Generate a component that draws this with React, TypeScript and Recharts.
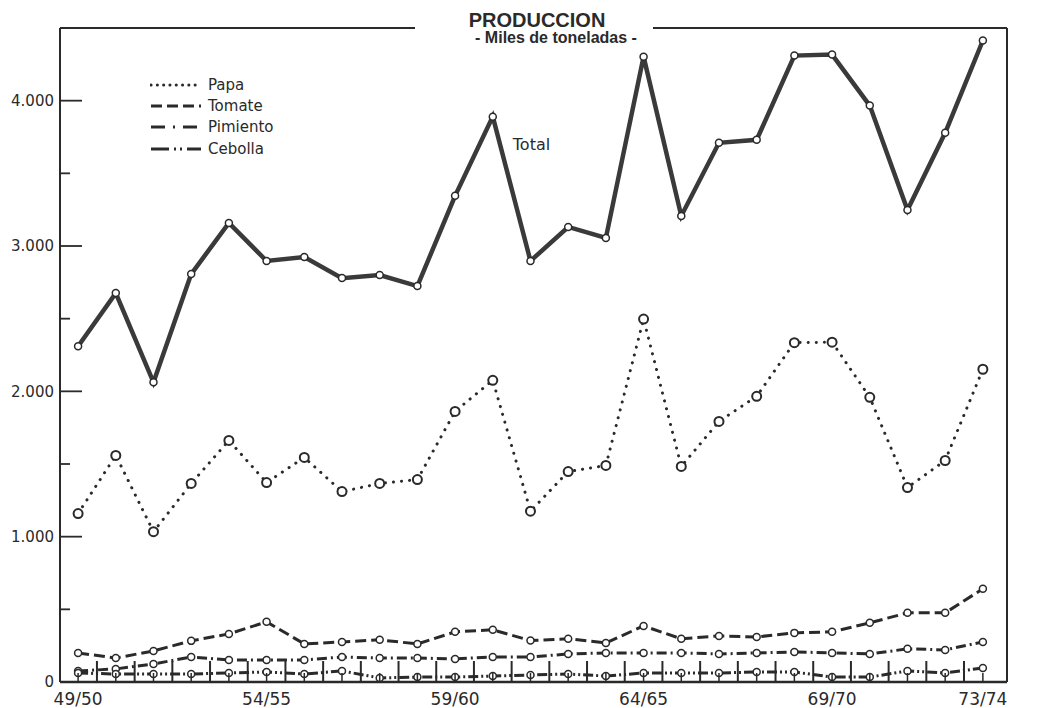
import { LabelList, Legend, Line, LineChart, ReferenceLine, XAxis, YAxis } from 'recharts';

// crop years (x categories)
const years = [
  '49/50', '50/51', '51/52', '52/53', '53/54', '54/55', '55/56', '56/57', '57/58',
  '58/59', '59/60', '60/61', '61/62', '62/63', '63/64', '64/65', '65/66', '66/67',
  '67/68', '68/69', '69/70', '70/71', '71/72', '72/73', '73/74',
];
const xLabels = ['49/50', '54/55', '59/60', '64/65', '69/70', '73/74'];
const yTicks = [0, 500, 1000, 1500, 2000, 2500, 3000, 3500, 4000];

// thousand tonnes
const total = [
  2310, 2676, 2062, 2807, 3159, 2897, 2924, 2779, 2800, 2724, 3345, 3890, 2897,
  3131, 3055, 4303, 3207, 3710, 3731, 4310, 4317, 3966, 3248, 3779, 4414,
];
const papa = [
  1159, 1559, 1034, 1366, 1662, 1372, 1545, 1310, 1366, 1393, 1862, 2076, 1175,
  1448, 1490, 2497, 1483, 1793, 1966, 2335, 2338, 1959, 1338, 1524, 2152,
];
const tomate = [
  200, 165, 214, 283, 331, 414, 262, 276, 290, 262, 345, 359, 285, 297, 269, 386,
  297, 317, 310, 338, 345, 407, 476, 476, 641,
];
const pimiento = [
  76, 90, 124, 172, 152, 152, 152, 172, 165, 165, 159, 172, 172, 193, 200, 200,
  200, 193, 200, 207, 200, 193, 228, 221, 276,
];
const cebolla = [
  62, 55, 55, 55, 62, 69, 55, 76, 28, 34, 34, 41, 48, 55, 41, 62, 62, 62, 69, 69,
  34, 34, 76, 62, 97,
];

const data = years.map((year, i) => ({
  i,
  year,
  total: total[i],
  papa: papa[i],
  tomate: tomate[i],
  pimiento: pimiento[i],
  cebolla: cebolla[i],
}));

// year points plus the taller marks between years
const xTicks = years.flatMap((_, i) => (i < years.length - 1 ? [i, i + 0.5] : [i]));

const INK = '#2a2a2a';
const FONT = '"DejaVu Sans", sans-serif';

const series = [
  { key: 'papa', name: 'Papa', dash: '0.1 8', legendDash: '0.1 6.2', width: 3, cap: 'round', r: 4.5 },
  { key: 'tomate', name: 'Tomate', dash: '11 5', legendDash: '11 5', width: 3, cap: 'butt', r: 3.5 },
  { key: 'pimiento', name: 'Pimiento', dash: '10 4 2 4', legendDash: '14 8 2 8', width: 3, cap: 'butt', r: 3.5 },
  { key: 'cebolla', name: 'Cebolla', dash: '10 3 2 3 2 3', legendDash: '18 5 2 4 2 5', width: 3, cap: 'butt', r: 3.5 },
];

const fmtY = (v: number) => (v === 0 ? '0' : `${v / 1000}.000`);

function LeftTick({ x, y, payload }: any) {
  const v = payload.value;
  const major = v % 1000 === 0;
  return (
    <g>
      <line x1={x} x2={x + (major ? 22 : 10)} y1={y} y2={y} stroke={INK} strokeWidth={1.8} />
      {major && (
        <text x={x - 6} y={y} dy="0.36em" textAnchor="end" fontSize={15} fontFamily={FONT} fill={INK}>
          {fmtY(v)}
        </text>
      )}
    </g>
  );
}

function RightTick({ x, y, payload }: any) {
  const v = payload.value;
  const major = v % 1000 === 0;
  return (
    <g>
      <line x1={x} x2={x - (major ? 24 : 10)} y1={y} y2={y} stroke={INK} strokeWidth={1.8} />
      {major && (
        <text x={x + 7} y={y} dy="0.36em" textAnchor="start" fontSize={15} fontFamily={FONT} fill={INK}>
          {fmtY(v)}
        </text>
      )}
    </g>
  );
}

function BottomTick({ x, y, payload }: any) {
  const v = payload.value;
  const isYear = Number.isInteger(v);
  const label = isYear && xLabels.includes(years[v]) ? years[v] : null;
  return (
    <g>
      <line x1={x} x2={x} y1={y} y2={y - (isYear ? 9 : 21)} stroke={INK} strokeWidth={isYear ? 1.5 : 2} />
      {label && (
        <text x={x} y={y + 23} textAnchor="middle" fontSize={17} fontFamily={FONT} fill={INK}>
          {label}
        </text>
      )}
    </g>
  );
}

function LegendBox() {
  return (
    <div style={{ fontFamily: FONT, fontSize: 15, color: INK }}>
      {series.map((s) => (
        <div key={s.key} style={{ display: 'flex', alignItems: 'center', height: 21.3 }}>
          <svg width={52} height={8}>
            <line
              x1={1}
              x2={51}
              y1={4}
              y2={4}
              stroke={INK}
              strokeWidth={s.width}
              strokeDasharray={s.legendDash}
              strokeLinecap={s.cap as any}
            />
          </svg>
          <span style={{ marginLeft: 6 }}>{s.name}</span>
        </div>
      ))}
    </div>
  );
}

function TotalLabel({ x, y, index }: any) {
  if (index !== 11) return null;
  return (
    <text x={x + 20} y={y + 33} fontSize={16} fontFamily={FONT} fill={INK}>
      Total
    </text>
  );
}

export default function App() {
  return (
    <div style={{ position: 'absolute', left: 0, top: 0, width: 1062, height: 708, background: '#fff' }}>
      <LineChart width={1062} height={708} data={data} margin={{ top: 28, right: 5, bottom: 0, left: 8 }}>
        <XAxis
          dataKey="i"
          type="number"
          domain={[-0.48, 24.64]}
          allowDataOverflow
          ticks={xTicks}
          interval={0}
          tick={<BottomTick />}
          tickLine={false}
          tickSize={0}
          tickMargin={0}
          height={26}
          axisLine={{ stroke: INK, strokeWidth: 2.5 }}
        />
        <YAxis
          yAxisId="left"
          domain={[0, 4500]}
          ticks={yTicks}
          interval={0}
          tick={<LeftTick />}
          tickLine={false}
          tickSize={0}
          tickMargin={0}
          width={52}
          axisLine={{ stroke: INK, strokeWidth: 2 }}
        />
        <YAxis
          yAxisId="right"
          orientation="right"
          domain={[0, 4500]}
          ticks={yTicks}
          interval={0}
          tick={<RightTick />}
          tickLine={false}
          tickSize={0}
          tickMargin={0}
          width={50}
          axisLine={{ stroke: INK, strokeWidth: 2 }}
        />
        <ReferenceLine yAxisId="left" y={4500} stroke={INK} strokeWidth={2} />
        <Legend
          layout="horizontal"
          verticalAlign="middle"
          align="center"
          content={<LegendBox />}
          wrapperStyle={{ position: 'absolute', left: 150, top: 74, width: 'auto', height: 'auto' }}
        />
        <Line
          yAxisId="left"
          dataKey="total"
          type="linear"
          stroke="#3a3a3a"
          strokeWidth={4.5}
          dot={{ r: 3.5, fill: '#fff', stroke: INK, strokeWidth: 1.5, strokeDasharray: 'none' }}
          isAnimationActive={false}
        >
          <LabelList dataKey="total" content={<TotalLabel />} />
        </Line>
        {series.map((s) => (
          <Line
            key={s.key}
            yAxisId="left"
            dataKey={s.key}
            name={s.name}
            type="linear"
            stroke={INK}
            strokeWidth={s.width}
            strokeDasharray={s.dash}
            strokeLinecap={s.cap as any}
            dot={{ r: s.r, fill: '#fff', stroke: INK, strokeWidth: s.key === 'papa' ? 2 : 1.5, strokeDasharray: 'none' }}
            isAnimationActive={false}
          />
        ))}
      </LineChart>
      <svg
        width={238}
        height={50}
        style={{ position: 'absolute', left: 415, top: 0 }}
      >
        <rect x={0} y={0} width={238} height={50} fill="#fff" />
        <text x={122} y={27} textAnchor="middle" fontSize={20} fontWeight="bold" fontFamily='"Liberation Sans", Arial, sans-serif' fill={INK}>
          PRODUCCION
        </text>
        <text x={141} y={43} textAnchor="middle" fontSize={16} fontWeight="bold" fontFamily='"Liberation Sans", Arial, sans-serif' fill={INK}>
          - Miles de toneladas -
        </text>
      </svg>
    </div>
  );
}
